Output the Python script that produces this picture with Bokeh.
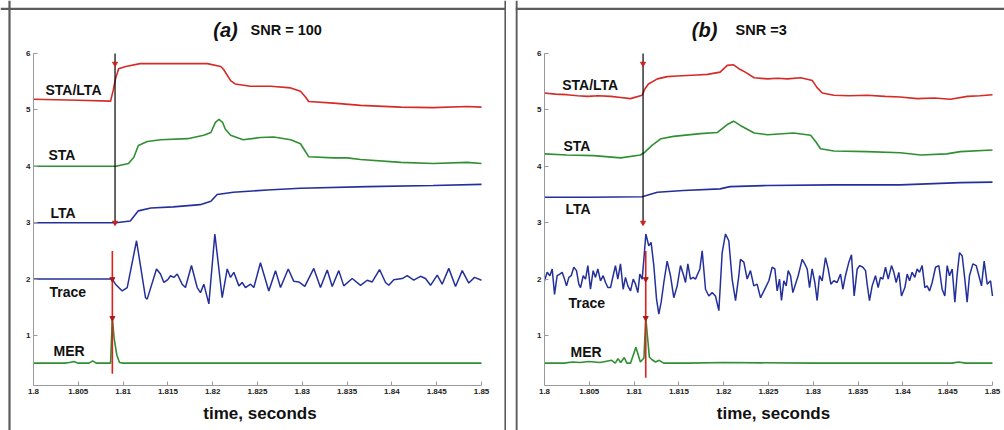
from bokeh.plotting import figure
from bokeh.models import Range1d, LinearAxis, FixedTicker, Label, Span, PrintfTickFormatter
from bokeh.layouts import row
from bokeh.embed import file_html
from bokeh.resources import INLINE

# ---------------- data ----------------
x_ticks = [1.8, 1.805, 1.81, 1.815, 1.82, 1.825, 1.83, 1.835, 1.84, 1.845, 1.85]
x_tick_labels = ["1.8", "1.805", "1.81", "1.815", "1.82", "1.825", "1.83", "1.835", "1.84", "1.845", "1.85"]
y_ticks = [1, 2, 3, 4, 5, 6]
y_tick_labels = ["1", "2", "3", "4", "5", "6"]
series_names = ["STA/LTA", "STA", "LTA", "Trace", "MER"]
panel_titles = ["(a)", "(b)"]
panel_snr = ["SNR = 100", "SNR =3"]
x_title = "time, seconds"

# Panel (a), SNR = 100
a_ratio_t = [1.8000, 1.8050, 1.8086, 1.8089, 1.80915, 1.8095, 1.8103, 1.8119, 1.8194, 1.8209, 1.8212,
             1.8220, 1.8225, 1.8242, 1.8265, 1.8287, 1.8298, 1.8304, 1.8307, 1.8335, 1.8365, 1.8410,
             1.8446, 1.8484, 1.8500]
a_ratio_v = [5.19, 5.17, 5.155, 5.35, 5.55, 5.73, 5.77, 5.82, 5.82, 5.77, 5.72,
             5.52, 5.46, 5.42, 5.42, 5.39, 5.33, 5.22, 5.15, 5.12, 5.08, 5.05,
             5.04, 5.06, 5.05]

a_sta_t = [1.8000, 1.8092, 1.8106, 1.8112, 1.8117, 1.8127, 1.8142, 1.8172, 1.8190, 1.8198, 1.8203,
           1.8207, 1.8211, 1.8214, 1.8220, 1.8234, 1.8253, 1.8268, 1.8287, 1.8298, 1.8304, 1.8307,
           1.8335, 1.8350, 1.8365, 1.8410, 1.8446, 1.8484, 1.8500]
a_sta_v = [4.00, 4.00, 4.05, 4.16, 4.37, 4.44, 4.47, 4.49, 4.55, 4.60, 4.78,
           4.83, 4.78, 4.66, 4.55, 4.47, 4.51, 4.52, 4.47, 4.40, 4.25, 4.17,
           4.15, 4.15, 4.12, 4.07, 4.05, 4.07, 4.05]

a_lta_t = [1.8000, 1.8092, 1.8108, 1.8117, 1.8131, 1.8156, 1.8186, 1.8198, 1.8205, 1.8223, 1.8261,
           1.8298, 1.8373, 1.8446, 1.8500]
a_lta_v = [3.00, 3.00, 3.03, 3.21, 3.26, 3.28, 3.32, 3.38, 3.50, 3.54, 3.58,
           3.61, 3.64, 3.66, 3.68]

a_trace_t = [1.8000, 1.8050, 1.80878, 1.80915, 1.80990, 1.81046, 1.81150, 1.81250, 1.81269, 1.81373,
             1.81417, 1.81455, 1.81499, 1.81529, 1.81566, 1.81604, 1.81659, 1.81696, 1.81763, 1.81827,
             1.81864, 1.81901, 1.81957, 1.82024, 1.82106, 1.82162, 1.82199, 1.82236, 1.82292, 1.82329,
             1.82366, 1.82422, 1.82459, 1.82533, 1.82626, 1.82701, 1.82757, 1.82843, 1.82905, 1.82961,
             1.83028, 1.83128, 1.83203, 1.83278, 1.83334, 1.83407, 1.83463, 1.83557, 1.83650, 1.83724,
             1.83780, 1.83862, 1.83929, 1.83965, 1.84021, 1.84115, 1.84171, 1.84244, 1.84319, 1.84375,
             1.84431, 1.84506, 1.84561, 1.84635, 1.84710, 1.84785, 1.84858, 1.84922, 1.85000]
a_trace_v = [2.00, 2.00, 2.00, 1.91, 1.79, 1.85, 2.68, 1.67, 1.645, 2.18,
             2.09, 1.94, 1.99, 2.06, 2.03, 2.09, 1.91, 1.85, 2.24, 1.85,
             1.76, 1.91, 1.56, 2.80, 1.67, 2.18, 2.03, 2.12, 1.88, 1.94,
             1.85, 1.91, 1.85, 2.29, 1.79, 2.15, 1.85, 2.18, 1.96, 1.95,
             1.87, 2.19, 1.85, 2.16, 1.87, 2.15, 1.88, 2.01, 1.89, 1.98,
             1.95, 2.17, 1.94, 1.89, 1.99, 2.01, 2.06, 1.98, 2.05, 2.01,
             1.89, 2.07, 1.91, 2.19, 1.87, 2.15, 1.93, 2.03, 1.98]

a_mer_t = [1.8000, 1.8035, 1.8040, 1.8045, 1.8050, 1.8062, 1.8066, 1.8070, 1.8086, 1.8088,
           1.8090, 1.8093, 1.8096, 1.8100, 1.8500]
a_mer_v = [0.51, 0.51, 0.52, 0.54, 0.51, 0.51, 0.55, 0.51, 0.51, 1.31,
           0.95, 0.65, 0.52, 0.51, 0.51]

a_pick_black_t = 1.8091
a_pick_red_t = 1.8088

# Panel (b), SNR = 3
b_ratio_t = [1.8000, 1.8012, 1.8025, 1.8037, 1.8048, 1.8060, 1.8074, 1.8085, 1.8096, 1.8109, 1.8112,
             1.8116, 1.8126, 1.8137, 1.8148, 1.8159, 1.8170, 1.8182, 1.8196, 1.8204, 1.8211, 1.8217,
             1.8224, 1.8234, 1.8249, 1.8260, 1.8271, 1.8286, 1.8299, 1.8304, 1.8310, 1.8323, 1.8340,
             1.8360, 1.8380, 1.8397, 1.8416, 1.8435, 1.8453, 1.8472, 1.8486, 1.8500]
b_ratio_v = [5.30, 5.28, 5.27, 5.25, 5.24, 5.25, 5.24, 5.22, 5.20, 5.26, 5.37,
             5.46, 5.55, 5.59, 5.60, 5.61, 5.62, 5.63, 5.67, 5.79, 5.80, 5.73,
             5.67, 5.57, 5.55, 5.56, 5.55, 5.57, 5.52, 5.40, 5.30, 5.26, 5.25,
             5.26, 5.24, 5.23, 5.20, 5.21, 5.19, 5.24, 5.25, 5.27]

b_sta_t = [1.8000, 1.8025, 1.8055, 1.8085, 1.8107, 1.8112, 1.8120, 1.8130, 1.8144, 1.8174, 1.8193,
           1.8204, 1.8211, 1.8219, 1.8234, 1.8249, 1.8278, 1.8297, 1.8303, 1.8308, 1.8323, 1.8360,
           1.8397, 1.8420, 1.8449, 1.8464, 1.8500]
b_sta_v = [4.22, 4.20, 4.19, 4.15, 4.20, 4.25, 4.37, 4.49, 4.53, 4.58, 4.60,
           4.74, 4.80, 4.72, 4.59, 4.56, 4.59, 4.55, 4.43, 4.31, 4.27, 4.26,
           4.24, 4.20, 4.22, 4.26, 4.29]

b_lta_t = [1.8000, 1.8050, 1.8109, 1.8126, 1.8155, 1.8196, 1.8207, 1.8249, 1.8323, 1.8397, 1.8464, 1.8500]
b_lta_v = [3.45, 3.45, 3.46, 3.54, 3.57, 3.60, 3.64, 3.66, 3.67, 3.67, 3.71, 3.72]

b_trace_t = [1.80000, 1.80030, 1.80060, 1.80086, 1.80112, 1.80141, 1.80171, 1.80197, 1.80223, 1.80246,
             1.80272, 1.80298, 1.80327, 1.80357, 1.80383, 1.80402, 1.80432, 1.80458, 1.80484, 1.80513,
             1.80543, 1.80569, 1.80595, 1.80625, 1.80655, 1.80681, 1.80707, 1.80737, 1.80766, 1.80792,
             1.80818, 1.80848, 1.80878, 1.80904, 1.80930, 1.80960, 1.80990, 1.81016, 1.81042, 1.81064,
             1.81090, 1.81109, 1.81131, 1.81164, 1.81190, 1.81220, 1.81250, 1.81276, 1.81302, 1.81332,
             1.81369, 1.81406, 1.81443, 1.81481, 1.81518, 1.81548, 1.81574, 1.81600, 1.81629, 1.81659,
             1.81685, 1.81734, 1.81760, 1.81797, 1.81834, 1.81871, 1.81908, 1.81946, 1.81983, 1.82020,
             1.82057, 1.82094, 1.82132, 1.82169, 1.82187, 1.82225, 1.82262, 1.82299, 1.82336, 1.82373,
             1.82411, 1.82467, 1.82504, 1.82541, 1.82571, 1.82597, 1.82623, 1.82645, 1.82671, 1.82697,
             1.82720, 1.82746, 1.82772, 1.82801, 1.82831, 1.82876, 1.82905, 1.82932, 1.82958, 1.82987,
             1.83017, 1.83043, 1.83069, 1.83099, 1.83136, 1.83166, 1.83196, 1.83229, 1.83266, 1.83304,
             1.83330, 1.83359, 1.83397, 1.83426, 1.83456, 1.83490, 1.83519, 1.83553, 1.83583, 1.83601,
             1.83627, 1.83657, 1.83694, 1.83724, 1.83750, 1.83776, 1.83806, 1.83836, 1.83873, 1.83899,
             1.83925, 1.83955, 1.83984, 1.84022, 1.84048, 1.84074, 1.84103, 1.84133, 1.84159, 1.84185,
             1.84215, 1.84245, 1.84271, 1.84297, 1.84327, 1.84364, 1.84401, 1.84438, 1.84468, 1.84494,
             1.84520, 1.84550, 1.84580, 1.84606, 1.84632, 1.84662, 1.84691, 1.84717, 1.84743, 1.84781,
             1.84818, 1.84848, 1.84877, 1.84907, 1.84941, 1.84978, 1.85000]
b_trace_v = [1.97, 2.12, 2.06, 2.18, 1.73, 2.06, 2.09, 2.12, 2.00, 1.88,
             2.03, 2.06, 2.21, 2.15, 1.91, 1.85, 2.06, 2.00, 2.24, 1.82,
             2.15, 2.03, 2.18, 1.97, 2.06, 1.94, 1.85, 1.85, 2.06, 2.24,
             2.00, 2.27, 1.82, 2.03, 1.88, 1.79, 2.00, 1.91, 1.76, 2.09,
             2.00, 2.35, 2.80, 2.59, 2.65, 2.24, 1.65, 1.38, 1.59, 1.94,
             2.32, 2.06, 1.67, 1.88, 2.24, 2.09, 1.94, 2.27, 2.00, 2.03,
             2.00, 2.18, 2.50, 1.82, 1.70, 1.76, 1.70, 1.44, 2.47, 2.80,
             2.68, 2.00, 1.62, 2.06, 2.35, 2.30, 2.00, 2.15, 1.88, 1.91,
             1.67, 1.85, 1.97, 2.21, 2.18, 1.79, 2.00, 1.62, 1.97, 1.88,
             2.15, 2.06, 1.76, 1.91, 2.06, 2.35, 2.27, 2.18, 1.85, 2.18,
             1.94, 1.62, 2.06, 1.97, 2.38, 2.18, 1.91, 1.97, 1.94, 2.09,
             1.82, 2.06, 2.30, 2.43, 1.70, 2.18, 2.24, 2.21, 2.15, 1.91,
             1.62, 1.88, 2.06, 1.85, 2.03, 2.00, 2.21, 2.00, 2.24, 2.12,
             1.94, 2.12, 1.70, 1.85, 2.09, 1.97, 2.12, 2.03, 2.18, 2.12,
             2.24, 1.85, 1.88, 1.79, 1.94, 2.21, 2.24, 1.82, 1.70, 2.24,
             2.06, 2.18, 1.59, 2.09, 2.47, 2.41, 2.00, 1.59, 2.06, 2.27,
             2.24, 2.06, 1.88, 2.32, 1.91, 1.97, 1.70]

b_mer_t = [1.8000, 1.8022, 1.8031, 1.8040, 1.8049, 1.8062, 1.8075, 1.8079, 1.8082, 1.8085,
           1.8089, 1.8092, 1.8096, 1.8102, 1.8107, 1.8111, 1.8113, 1.8117, 1.8120, 1.8124,
           1.8128, 1.8133, 1.8160, 1.8200, 1.8300, 1.8400, 1.8455, 1.8462, 1.8470, 1.8500]
b_mer_v = [0.51, 0.51, 0.53, 0.52, 0.54, 0.52, 0.56, 0.51, 0.59, 0.52,
           0.61, 0.51, 0.51, 0.79, 0.53, 0.60, 1.32, 0.62, 0.57, 0.53,
           0.56, 0.51, 0.51, 0.52, 0.51, 0.51, 0.51, 0.53, 0.51, 0.51]

b_pick_black_t = 1.8110
b_pick_red_t = 1.8113

# pick segments / markers (levels)
black_seg_levels = [3.0, 6.0]
a_red_seg_levels = [0.32, 2.50]
b_red_seg_levels = [0.25, 2.50]
black_mark_levels = [5.82, 3.0]
red_mark_levels = [2.0, 1.31]

# ---------------- styling ----------------
RED = "#d62a26"
GREEN = "#2f8f33"
BLUE = "#24309a"
FONT = "Liberation Sans"
BORDER = "#5c5c5c"
AXIS_C = "#9a9a9a"

PX_PER_X = 448 / 0.05      # pixels per second
PX_PER_Y = 282 / 5.0       # pixels per unit


def make_panel(width, height, axis_left_px, axis_top_px, border_left_px, border_top_px, border_right_px):
    x0 = 1.8 - axis_left_px / PX_PER_X
    x1 = 1.8 + (width - axis_left_px) / PX_PER_X
    y1 = 6.0 + axis_top_px / PX_PER_Y
    y0 = 6.0 - (height - axis_top_px) / PX_PER_Y
    p = figure(width=width, height=height, output_backend="svg", toolbar_location=None,
               x_range=Range1d(x0, x1), y_range=Range1d(y0, y1),
               x_axis_type=None, y_axis_type=None, min_border=0)
    p.grid.visible = False
    p.outline_line_color = None
    p.background_fill_color = "white"
    p.border_fill_color = "white"

    y_bottom = 0.115
    yax = LinearAxis(fixed_location=1.8, bounds=(y_bottom, 6.0),
                     ticker=FixedTicker(ticks=y_ticks, minor_ticks=[]))
    yax.major_label_overrides = {t: l for t, l in zip(y_ticks, y_tick_labels)}
    xax = LinearAxis(fixed_location=y_bottom, bounds=(1.8, 1.85),
                     ticker=FixedTicker(ticks=x_ticks, minor_ticks=[]),
                     formatter=PrintfTickFormatter(format="%g"))
    xax.major_label_overrides = {t: l for t, l in zip(x_ticks, x_tick_labels)}
    for ax in (yax, xax):
        ax.axis_line_color = AXIS_C
        ax.axis_line_width = 1
        ax.major_tick_line_color = AXIS_C
        ax.major_tick_in = 4
        ax.major_tick_out = 0
        ax.minor_tick_line_color = None
        ax.major_label_text_font = FONT
        ax.major_label_text_font_style = "bold"
        ax.major_label_text_font_size = "8px"
        ax.major_label_text_color = "#222222"
    yax.major_label_standoff = 3
    xax.major_label_standoff = 4
    p.add_layout(yax, "left")
    p.add_layout(xax, "below")

    # panel frame lines (positions in canvas pixels converted to data)
    def px_to_x(px):
        return x0 + px / PX_PER_X

    def py_to_y(py):
        return y1 - py / PX_PER_Y

    p.add_layout(Span(location=px_to_x(border_left_px), dimension="height",
                      line_color=BORDER, line_width=2.2))
    p.add_layout(Span(location=py_to_y(border_top_px), dimension="width",
                      line_color=BORDER, line_width=2.2))
    if border_right_px is not None:
        p.add_layout(Span(location=px_to_x(border_right_px), dimension="height",
                          line_color=BORDER, line_width=2.2))
    return p


def add_text(p, x, y, text, size, style="bold", align="left"):
    p.add_layout(Label(x=x, y=y, text=text, text_font=FONT, text_font_style=style,
                       text_font_size=size, text_align=align, text_baseline="middle",
                       text_color="#111111"))


def draw(p, ratio, sta, lta, trace, mer, t_black, t_red, red_levels):
    p.line(ratio[0], ratio[1], line_color=RED, line_width=1.6)
    p.line(sta[0], sta[1], line_color=GREEN, line_width=1.6)
    p.line(lta[0], lta[1], line_color=BLUE, line_width=1.6)
    p.line(trace[0], trace[1], line_color=BLUE, line_width=1.5)
    p.line(mer[0], mer[1], line_color=GREEN, line_width=1.6)
    p.segment(x0=[t_black], y0=[black_seg_levels[0]], x1=[t_black], y1=[black_seg_levels[1]],
              line_color="black", line_width=1.2)
    p.segment(x0=[t_red], y0=[red_levels[0]], x1=[t_red], y1=[red_levels[1]],
              line_color="#e0201c", line_width=1.6)
    p.scatter([t_black] * len(black_mark_levels), black_mark_levels, marker="inverted_triangle",
              size=5, fill_color="#d0201c", line_color="#d0201c")
    p.scatter([t_red] * len(red_mark_levels), red_mark_levels, marker="inverted_triangle",
              size=5, fill_color="#b01818", line_color="#b01818")


H = 430
pa = make_panel(506, H, 33, 53, 9, 8.3, 505)
draw(pa, (a_ratio_t, a_ratio_v), (a_sta_t, a_sta_v), (a_lta_t, a_lta_v),
     (a_trace_t, a_trace_v), (a_mer_t, a_mer_v), a_pick_black_t, a_pick_red_t, a_red_seg_levels)
for name, (lx, ly) in zip(series_names, [(1.80134, 5.36), (1.80167, 4.20), (1.80190, 3.18),
                                         (1.80179, 1.78), (1.80223, 0.73)]):
    add_text(pa, lx, ly, name, "14px")
add_text(pa, 1.82143, 6.41, panel_titles[0], "20px", style="bold italic", align="center")
add_text(pa, 1.82422, 6.41, panel_snr[0], "14.5px")
add_text(pa, 1.82528, -0.383, x_title, "17px", align="center")

pb = make_panel(489, H, 29, 53, 1, 8.3, None)
draw(pb, (b_ratio_t, b_ratio_v), (b_sta_t, b_sta_v), (b_lta_t, b_lta_v),
     (b_trace_t, b_trace_v), (b_mer_t, b_mer_v), b_pick_black_t, b_pick_red_t, b_red_seg_levels)
for name, (lx, ly) in zip(series_names, [(1.80198, 5.45), (1.80212, 4.36), (1.80234, 3.25),
                                         (1.80268, 1.57), (1.80290, 0.70)]):
    add_text(pb, lx, ly, name, "14px")
add_text(pb, 1.81786, 6.41, panel_titles[1], "20px", style="bold italic", align="center")
add_text(pb, 1.82132, 6.41, panel_snr[1], "14.5px")
add_text(pb, 1.82556, -0.383, x_title, "17px", align="center")

layout = row(pa, pb, spacing=9)
open("out.html", "w").write(file_html(layout, INLINE))
